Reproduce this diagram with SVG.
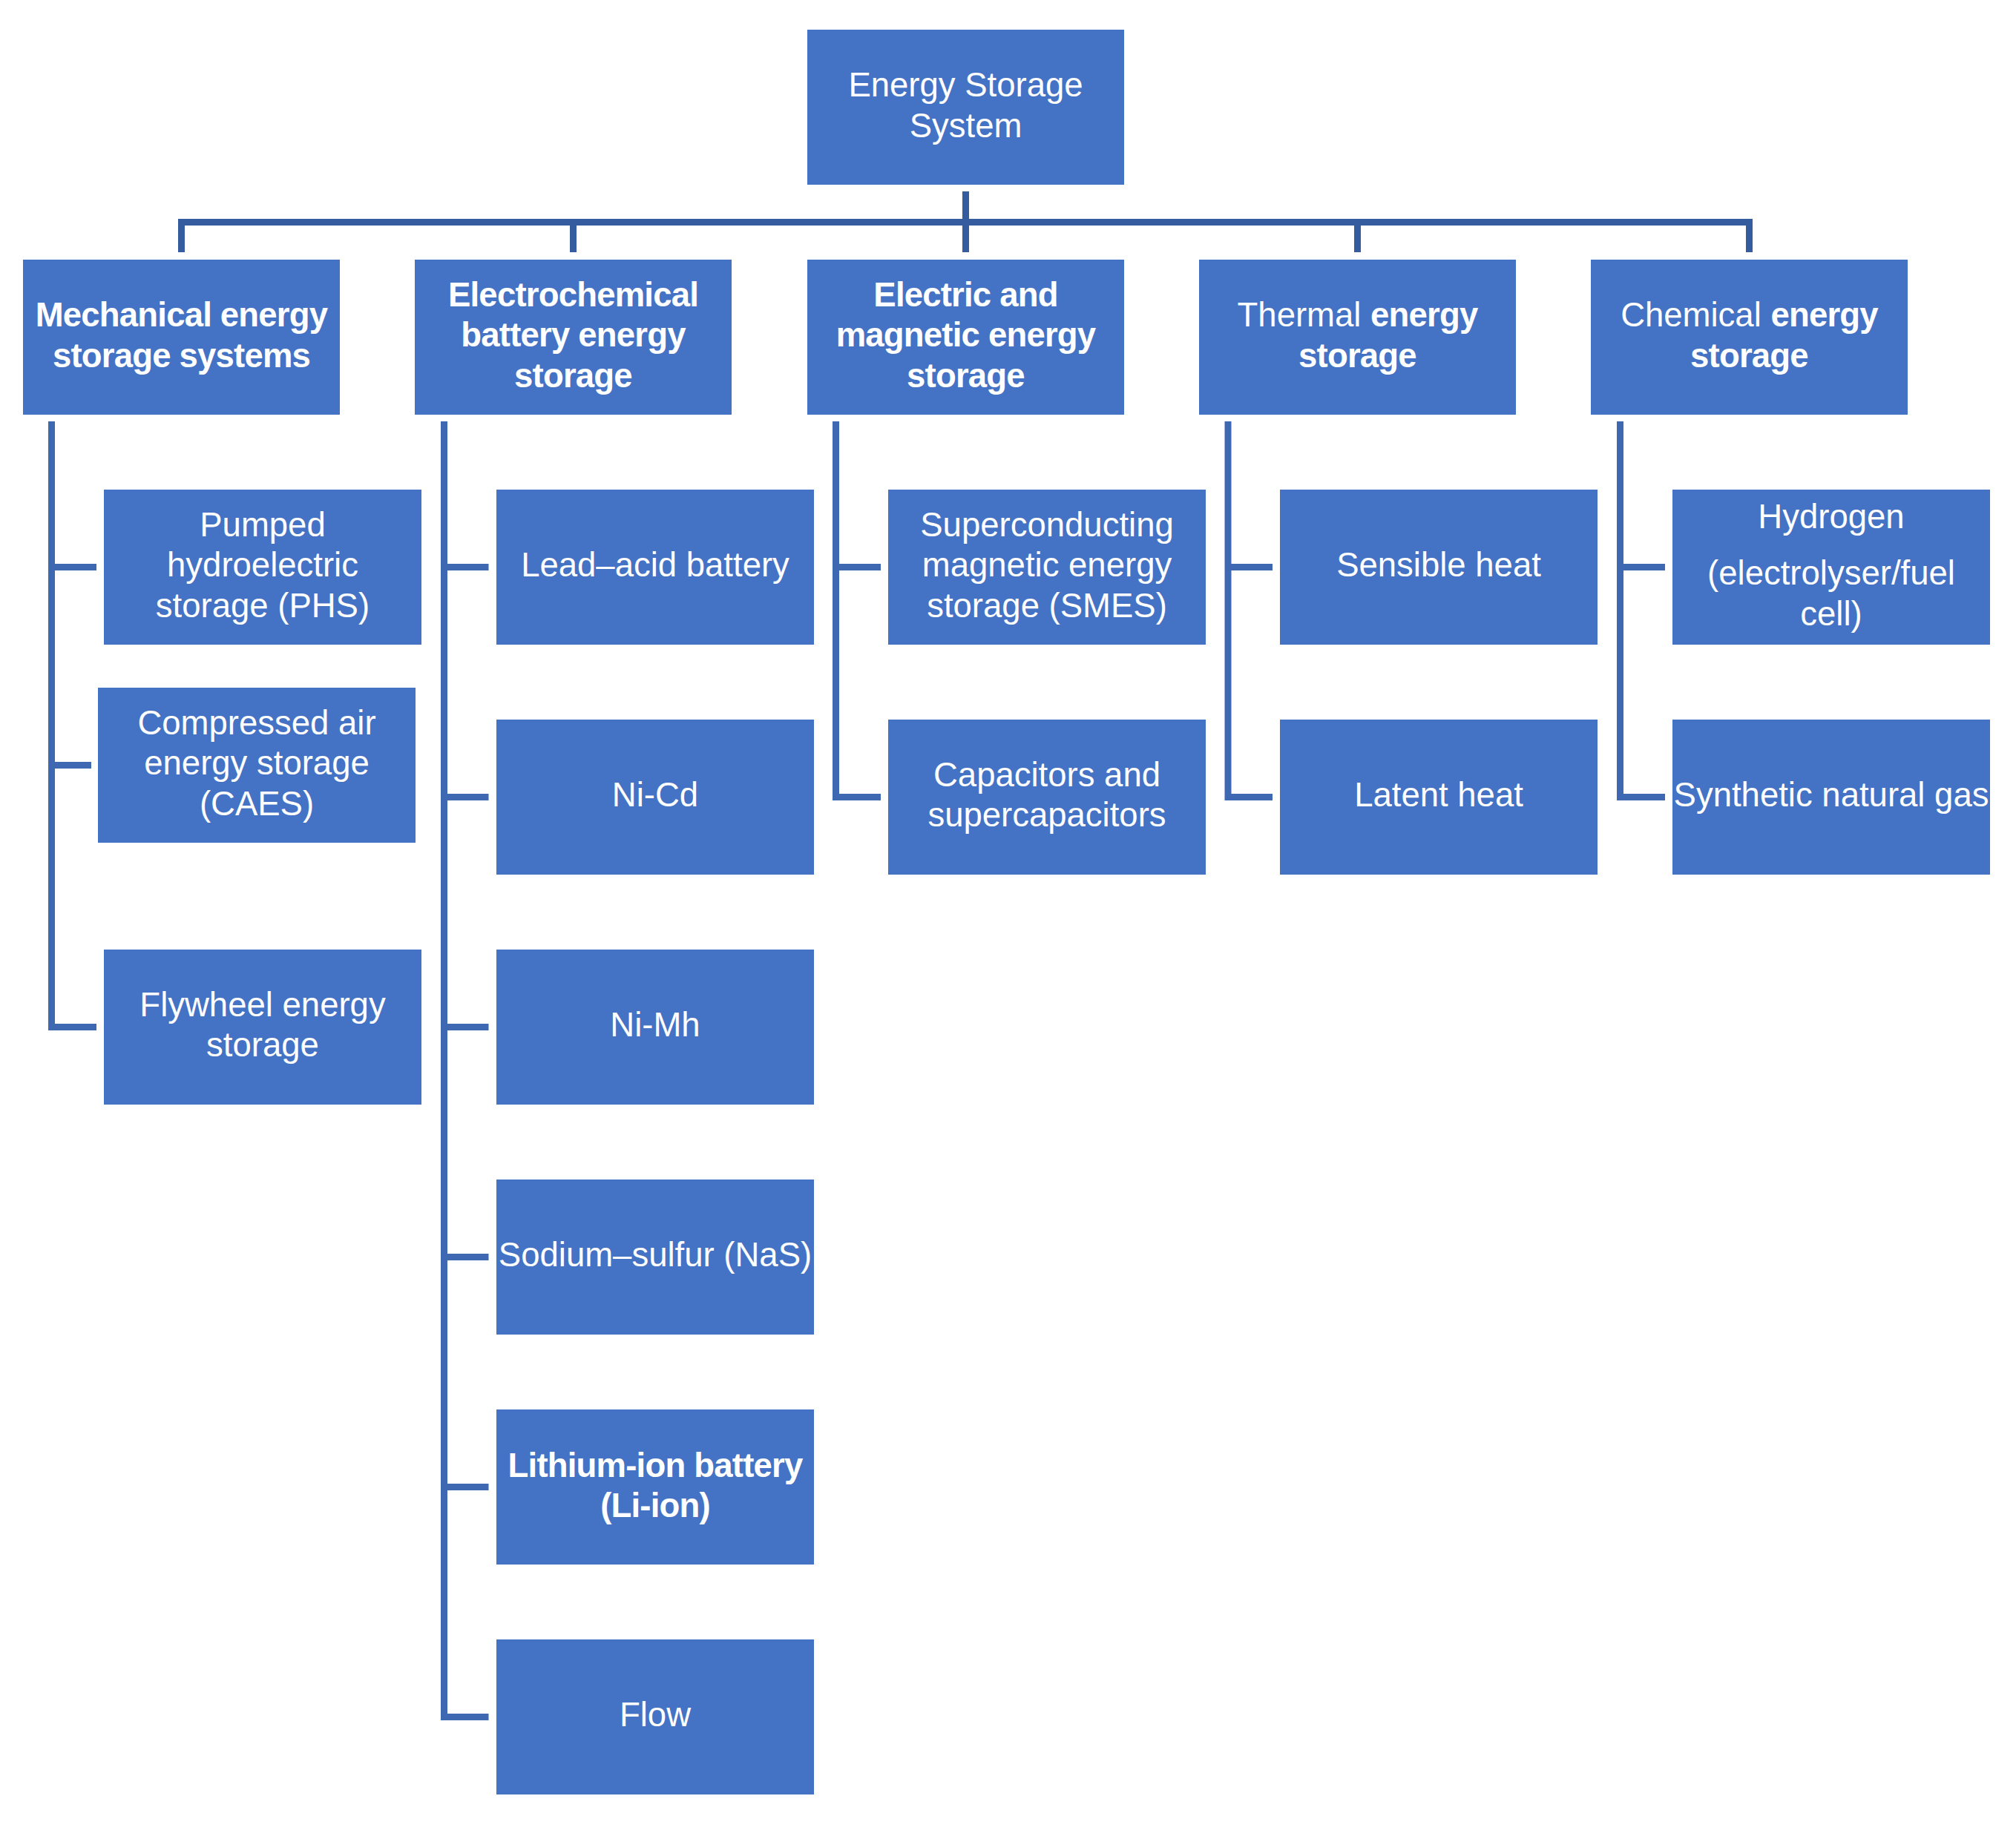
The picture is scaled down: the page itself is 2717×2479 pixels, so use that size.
<svg xmlns="http://www.w3.org/2000/svg" width="2717" height="2479" viewBox="0 0 2717 2479">
<style>
.box{fill:#4472C4}
.t{font-family:"Liberation Sans",Arial,sans-serif;font-size:45.5px;fill:#FFFFFF;text-anchor:middle}
.b{font-weight:bold;letter-spacing:-0.8px}
.top{fill:none;stroke:#355C9F;stroke-width:9;stroke-linejoin:miter;stroke-linecap:butt}
.side{fill:none;stroke:#3E69B2;stroke-width:9;stroke-linejoin:miter;stroke-linecap:butt}
</style>
<rect width="2717" height="2479" fill="#FFFFFF"/>
<g id="connectors">
<path class="top" d="M1301.5,258 V340"/>
<path class="top" d="M244.5,340 V299.5 H2357.5 V340"/>
<path class="top" d="M772.5,299.5 V340 M1829.5,299.5 V340"/>
<path class="side" d="M69.5,568 V1384.5 H130 M69.5,764.5 H130 M69.5,1031.5 H123"/>
<path class="side" d="M598.5,568 V2314.5 H658.5 M598.5,764.5 H658.5 M598.5,1074.5 H658.5 M598.5,1384.5 H658.5 M598.5,1694.5 H658.5 M598.5,2004.5 H658.5"/>
<path class="side" d="M1126.5,568 V1074.5 H1187 M1126.5,764.5 H1187"/>
<path class="side" d="M1655,568 V1074.5 H1715 M1655,764.5 H1715"/>
<path class="side" d="M2183.5,568 V1074.5 H2244 M2183.5,764.5 H2244"/>
</g>
<g id="root">
<rect class="box" x="1088" y="40" width="427" height="209"/>
<text class="t" x="1301.5" y="130">Energy Storage</text>
<text class="t" x="1301.5" y="184.5">System</text>
</g>
<g id="mechanical">
<rect class="box" x="31" y="350" width="427" height="209"/>
<text class="t b" x="244.5" y="440">Mechanical energy</text>
<text class="t b" x="244.5" y="494.5">storage systems</text>
</g>
<g id="electrochemical">
<rect class="box" x="559" y="350" width="427" height="209"/>
<text class="t b" x="772.5" y="412.5">Electrochemical</text>
<text class="t b" x="772.5" y="467">battery energy</text>
<text class="t b" x="772.5" y="521.5">storage</text>
</g>
<g id="electric-magnetic">
<rect class="box" x="1088" y="350" width="427" height="209"/>
<text class="t b" x="1301.5" y="412.5">Electric and</text>
<text class="t b" x="1301.5" y="467">magnetic energy</text>
<text class="t b" x="1301.5" y="521.5">storage</text>
</g>
<g id="thermal">
<rect class="box" x="1616" y="350" width="427" height="209"/>
<text class="t" x="1829.5" y="440">Thermal <tspan class="b">energy</tspan></text>
<text class="t b" x="1829.5" y="494.5">storage</text>
</g>
<g id="chemical">
<rect class="box" x="2144" y="350" width="427" height="209"/>
<text class="t" x="2357.5" y="440">Chemical <tspan class="b">energy</tspan></text>
<text class="t b" x="2357.5" y="494.5">storage</text>
</g>
<g id="phs">
<rect class="box" x="140" y="660" width="428" height="209"/>
<text class="t" x="354" y="722.5">Pumped</text>
<text class="t" x="354" y="777">hydroelectric</text>
<text class="t" x="354" y="831.5">storage (PHS)</text>
</g>
<g id="caes">
<rect class="box" x="132" y="927" width="428" height="209"/>
<text class="t" x="346" y="989.5">Compressed air</text>
<text class="t" x="346" y="1044">energy storage</text>
<text class="t" x="346" y="1098.5">(CAES)</text>
</g>
<g id="flywheel">
<rect class="box" x="140" y="1280" width="428" height="209"/>
<text class="t" x="354" y="1369.5">Flywheel energy</text>
<text class="t" x="354" y="1424">storage</text>
</g>
<g id="lead-acid">
<rect class="box" x="669" y="660" width="428" height="209"/>
<text class="t" x="883" y="777">Lead–acid battery</text>
</g>
<g id="ni-cd">
<rect class="box" x="669" y="970" width="428" height="209"/>
<text class="t" x="883" y="1087">Ni-Cd</text>
</g>
<g id="ni-mh">
<rect class="box" x="669" y="1280" width="428" height="209"/>
<text class="t" x="883" y="1397">Ni-Mh</text>
</g>
<g id="nas">
<rect class="box" x="669" y="1590" width="428" height="209"/>
<text class="t" x="883" y="1707">Sodium–sulfur (NaS)</text>
</g>
<g id="li-ion">
<rect class="box" x="669" y="1900" width="428" height="209"/>
<text class="t b" x="883" y="1990.5">Lithium-ion battery</text>
<text class="t b" x="883" y="2045">(Li-ion)</text>
</g>
<g id="flow">
<rect class="box" x="669" y="2210" width="428" height="209"/>
<text class="t" x="883" y="2327">Flow</text>
</g>
<g id="smes">
<rect class="box" x="1197" y="660" width="428" height="209"/>
<text class="t" x="1411" y="722.5">Superconducting</text>
<text class="t" x="1411" y="777">magnetic energy</text>
<text class="t" x="1411" y="831.5">storage (SMES)</text>
</g>
<g id="capacitors">
<rect class="box" x="1197" y="970" width="428" height="209"/>
<text class="t" x="1411" y="1059.5">Capacitors and</text>
<text class="t" x="1411" y="1114">supercapacitors</text>
</g>
<g id="sensible">
<rect class="box" x="1725" y="660" width="428" height="209"/>
<text class="t" x="1939" y="777">Sensible heat</text>
</g>
<g id="latent">
<rect class="box" x="1725" y="970" width="428" height="209"/>
<text class="t" x="1939" y="1087">Latent heat</text>
</g>
<g id="hydrogen">
<rect class="box" x="2254" y="660" width="428" height="209"/>
<text class="t" x="2468" y="712">Hydrogen</text>
<text class="t" x="2468" y="788">(electrolyser/fuel</text>
<text class="t" x="2468" y="843">cell)</text>
</g>
<g id="sng">
<rect class="box" x="2254" y="970" width="428" height="209"/>
<text class="t" x="2468" y="1087">Synthetic natural gas</text>
</g>
</svg>
